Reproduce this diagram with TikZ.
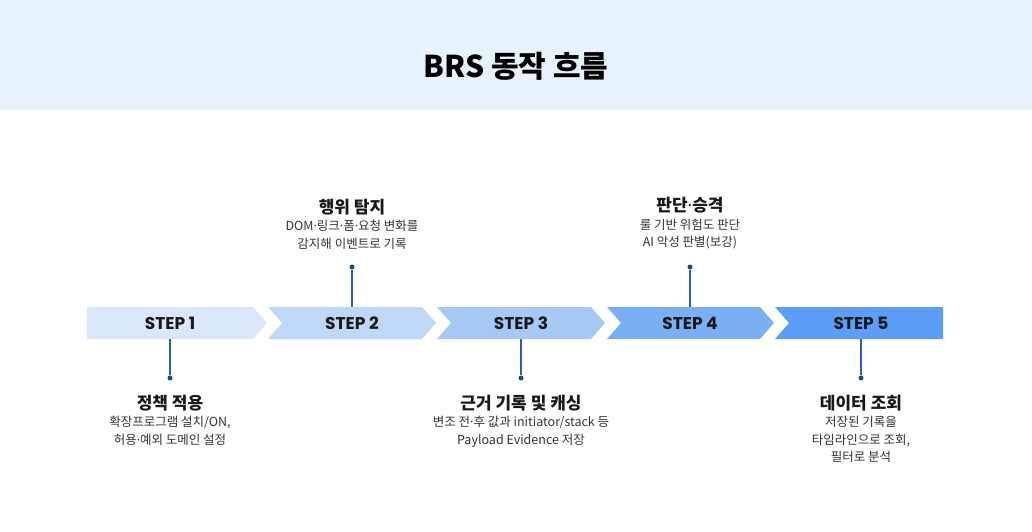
\documentclass[tikz,border=0pt]{standalone}
\usepackage{fontspec}
\setmainfont{Noto Sans CJK KR}
\newfontfamily\stepfont{Poppins}
\newfontfamily\latinfont{Noto Sans}
\newcommand\middot{{\latinfont ·}}
\usetikzlibrary{positioning}
\definecolor{headbg}{HTML}{E8F2FE}
\definecolor{stepA}{HTML}{DBE7FA}
\definecolor{stepB}{HTML}{C0D8F7}
\definecolor{stepC}{HTML}{A6C8F5}
\definecolor{stepD}{HTML}{7AAFF4}
\definecolor{stepE}{HTML}{5B9DF7}
\definecolor{stemblue}{HTML}{2D5FA8}
\definecolor{dotblue}{HTML}{1A4A94}
\definecolor{bodytxt}{HTML}{333333}

\begin{document}
\begin{tikzpicture}[x=1pt, y=-1pt,
    steplabel/.style={minimum height=32pt, inner sep=0pt, font=\stepfont\bfseries\fontsize{17}{19}\selectfont, text=black!90},
    dot/.style={circle, fill=dotblue, inner sep=0pt, minimum size=5pt},
    stem/.style={stemblue, line width=1.2pt},
    head/.style={inner sep=0pt, font=\bfseries\fontsize{17}{19}\selectfont, text=black!90},
    desc/.style={inner sep=0pt, align=center, font=\fontsize{12.5}{17.5}\selectfont, text=bodytxt}]
    \useasboundingbox (0,0) rectangle (1032,532);
    \fill[headbg] (0,0) rectangle (1032,110);
    \node[font=\bfseries\fontsize{30}{32}\selectfont, text=black] (title) at (516,66) {BRS 동작 흐름};

    \foreach \l/\r/\n/\t/\c in {87/253/0/14/stepA, 268/422/14/14/stepB, 437/591/14/14/stepC, 607/760/14/14/stepD, 775/943/14/0/stepE}
        \fill[\c] (\l,307) -- (\r,307) -- ++(\t,16) -- (\r,339) -- (\l,339) -- ++(\n,-16) -- cycle;

    \foreach \x [count=\i] in {170,352,521,690,861}
        \node[steplabel] (step\i) at (\x,323) {STEP \i};

    \node[dot] (dot1) at (170,378) {};
    \node[dot] (dot2) at (352,267) {};
    \node[dot] (dot3) at (521,378) {};
    \node[dot] (dot4) at (690,267) {};
    \node[dot] (dot5) at (861,378) {};

    \draw[stem] (step1.south) -- (dot1);
    \draw[stem] (step2.north) -- (dot2);
    \draw[stem] (step3.south) -- (dot3);
    \draw[stem] (step4.north) -- (dot4);
    \draw[stem] (step5.south) -- (dot5);

    \node[head, below=14pt of dot1] (policy) {정책 적용};
    \node[desc, below=5pt of policy] (policytxt) {확장프로그램 설치/ON,\\허용\middot 예외 도메인 설정};

    \node[desc, above=15pt of dot2] (detecttxt) {DOM\middot 링크\middot 폼\middot 요청 변화를\\감지해 이벤트로 기록};
    \node[head, above=5pt of detecttxt] (detect) {행위 탐지};

    \node[head, below=14pt of dot3] (evidence) {근거 기록 및 캐싱};
    \node[desc, below=5pt of evidence] (evidencetxt) {변조 전\middot 후 값과 initiator/stack 등\\Payload Evidence 저장};

    \node[desc, above=15pt of dot4] (verdicttxt) {룰 기반 위험도 판단\\AI 악성 판별(보강)};
    \node[head, above=5pt of verdicttxt] (verdict) {판단\middot 승격};

    \node[head, below=14pt of dot5] (lookup) {데이터 조회};
    \node[desc, below=5pt of lookup] (lookuptxt) {저장된 기록을\\타임라인으로 조회,\\필터로 분석};
\end{tikzpicture}
\end{document}
